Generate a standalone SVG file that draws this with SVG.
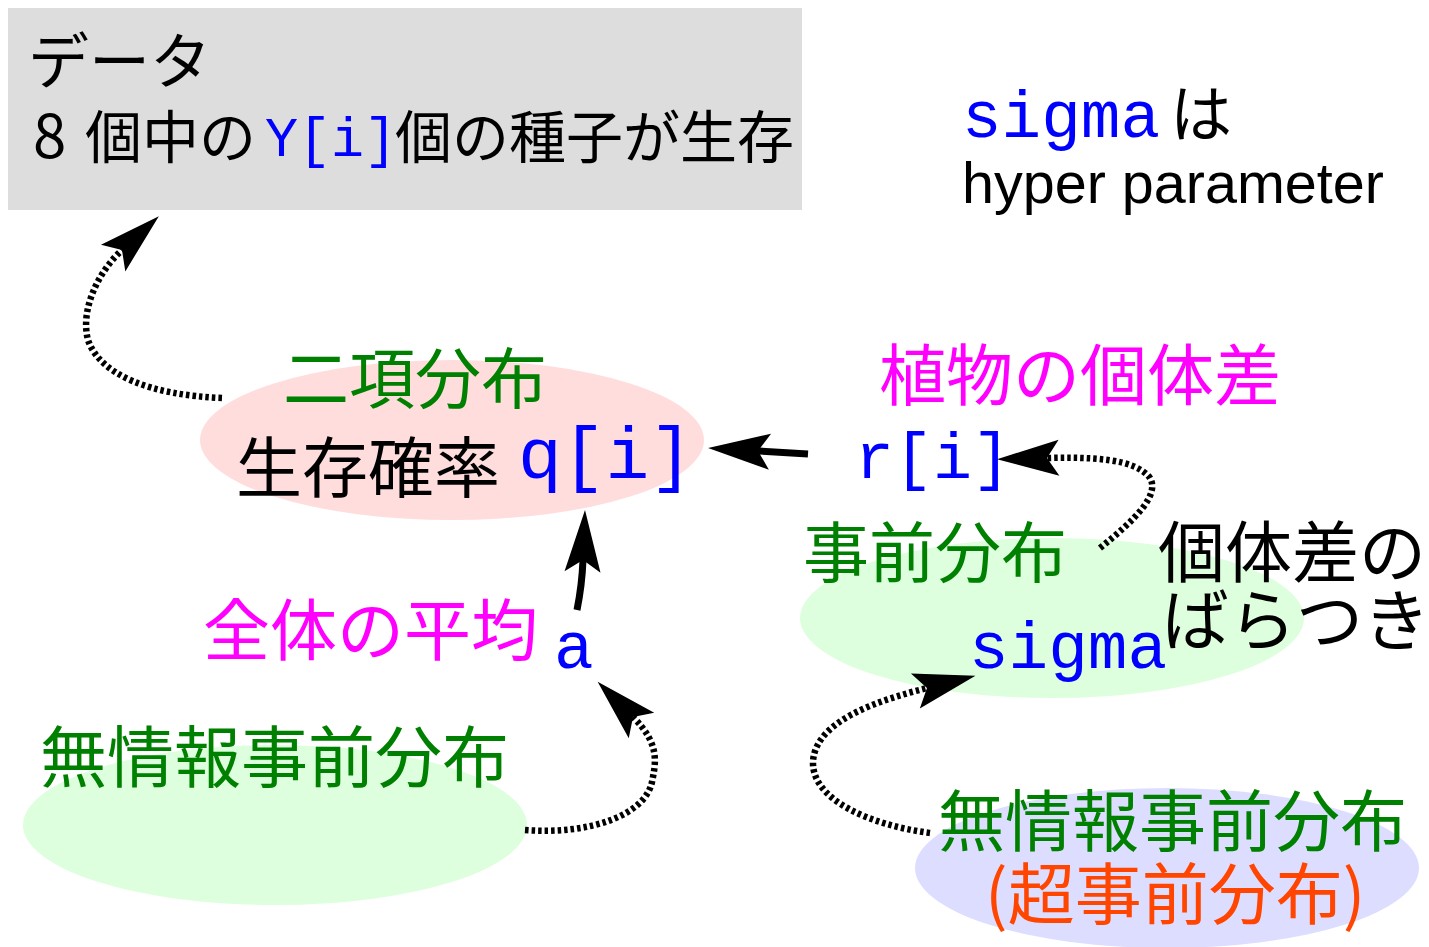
<svg xmlns="http://www.w3.org/2000/svg" width="1429" height="947" viewBox="0 0 1429 947">
<style>
.jp{font-family:"Noto Sans CJK JP","Noto Sans",sans-serif;}
.mono{font-family:"Liberation Mono","DejaVu Sans Mono",monospace;fill:#0000ff;}
.sans{font-family:"Liberation Sans",Arial,sans-serif;}
.green{fill:#008000;}
.mag{fill:#ff00ff;}
.blk{fill:#000000;}
.orange{fill:#ff4500;}
.dot{fill:none;stroke:#000;stroke-width:6.5;stroke-dasharray:3.5 3;marker-end:url(#ah);}
.solid{fill:none;stroke:#000;stroke-width:7;marker-end:url(#ah);}
</style>
<defs>
<marker id="ah" markerUnits="userSpaceOnUse" orient="auto" viewBox="-12 -18 62 36" refX="0" refY="0" markerWidth="62" markerHeight="36" overflow="visible">
<path d="M50,0 L-12,-18 L0,0 L-12,18 Z" fill="#000"/>
</marker>
</defs>
<rect width="1429" height="947" fill="#ffffff"/>

<g id="data">
<rect x="8" y="8" width="794" height="202" fill="#dddddd"/>
<text class="jp blk" x="28" y="84" font-size="61">データ</text>
<text class="jp blk" x="33" y="158" font-size="57"><tspan font-size="60">8</tspan><tspan x="85">個中の</tspan></text>
<text class="mono" x="265" y="156" font-size="55">Y[i]</text>
<text class="jp blk" x="395" y="158" font-size="57">個の種子が生存</text>
</g>

<g id="note">
<text class="mono" x="962" y="137" font-size="66">sigma</text>
<text class="jp blk" x="1170" y="137" font-size="62">は</text>
<text class="sans blk" x="962" y="203" font-size="57.5">hyper parameter</text>
</g>

<g id="binom">
<ellipse cx="452" cy="440" rx="252" ry="80" fill="#ffdddd"/>
<text class="jp green" x="283" y="403" font-size="66">二項分布</text>
<text class="jp blk" x="236" y="492" font-size="66">生存確率</text>
<text class="mono" x="518" y="478" font-size="73">q[i]</text>
</g>

<g id="ri">
<text class="jp mag" x="879" y="400" font-size="67">植物の個体差</text>
<text class="mono" x="855" y="478" font-size="65">r[i]</text>
</g>

<g id="prior">
<ellipse cx="1052" cy="618" rx="252" ry="80" fill="#ddffdd"/>
<text class="jp green" x="803" y="577" font-size="66">事前分布</text>
<text class="mono" x="969" y="668" font-size="66">sigma</text>
</g>

<g id="variation">
<text class="jp blk" x="1158" y="577" font-size="67">個体差の</text>
<text class="jp blk" x="1162" y="645" font-size="67">ばらつき</text>
</g>

<g id="mean">
<text class="jp mag" x="203" y="655" font-size="67">全体の平均</text>
<text class="mono" x="554" y="668" font-size="66">a</text>
</g>

<g id="noninfo-a">
<ellipse cx="275" cy="825" rx="252" ry="80" fill="#ddffdd"/>
<text class="jp green" x="40" y="782" font-size="67">無情報事前分布</text>
</g>

<g id="hyperprior">
<ellipse cx="1167" cy="868" rx="252" ry="80" fill="#ddddff"/>
<text class="jp green" x="938" y="846" font-size="67">無情報事前分布</text>
<text class="jp orange" x="985" y="919" font-size="67">(超事前分布)</text>
</g>

<g id="connectors">
<path class="dot" d="M222,398 C150,395 100,375 88,340 C80,310 98,272 122,250"/>
<path class="solid" d="M808,454 L758,451"/>
<path class="dot" d="M1100,548 C1135,520 1160,495 1150,478 C1135,458 1090,457 1047,458"/>
<path class="solid" d="M577,610 Q582,585 583,560"/>
<path class="dot" d="M525,830 C590,835 645,815 652,782 C656,762 660,744 633,717"/>
<path class="dot" d="M930,833 C870,825 812,800 813,762 C815,720 880,700 927,688"/>
</g>
</svg>
